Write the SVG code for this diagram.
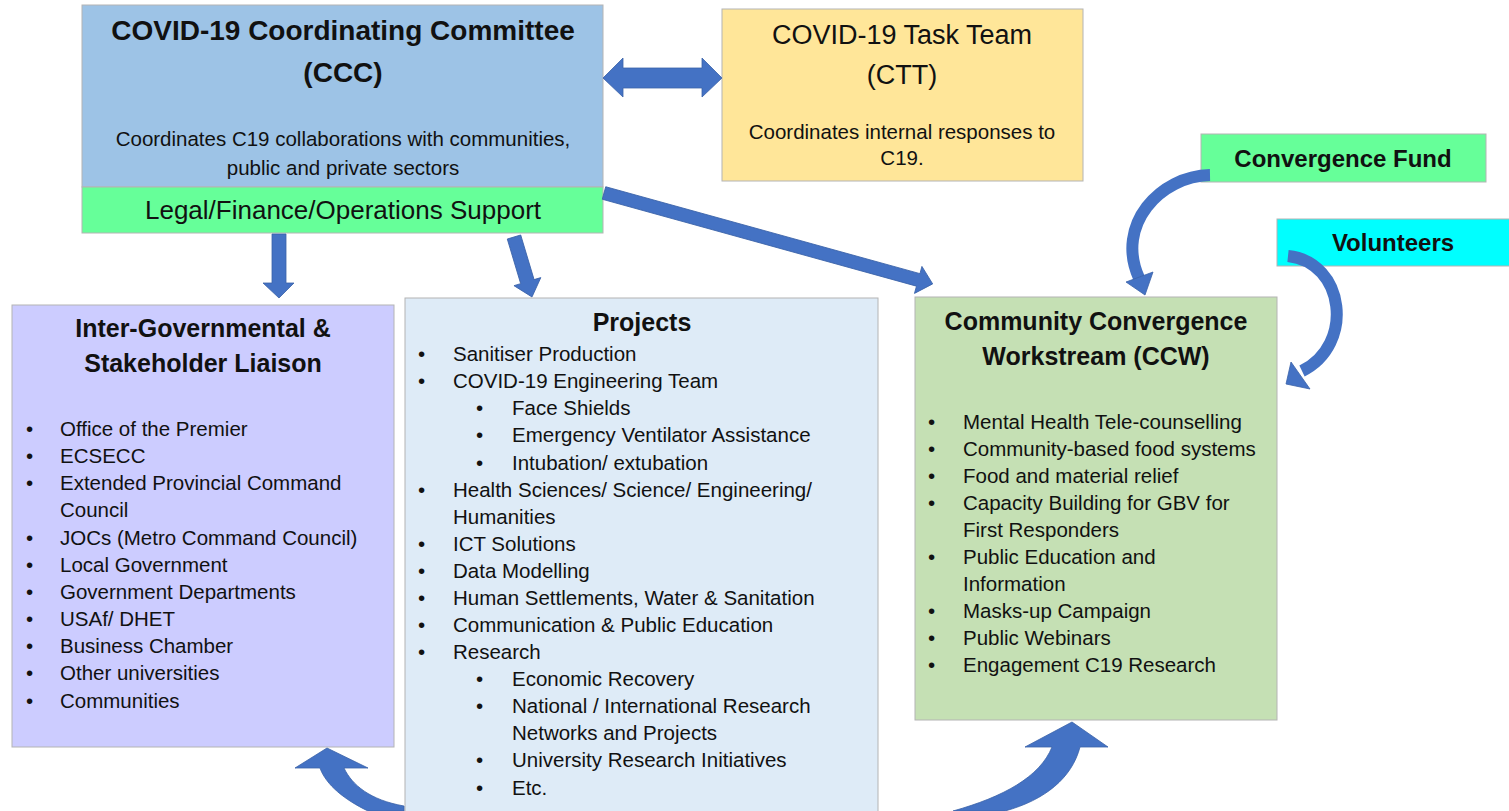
<svg xmlns="http://www.w3.org/2000/svg" width="1509" height="811" viewBox="0 0 1509 811">
<style>
.box{stroke:#B4B4B4;stroke-width:1}
.t{font-family:"Liberation Sans",Arial,sans-serif;fill:#111}
.h{font-weight:bold;font-size:25px;text-anchor:middle}
.b{font-size:20.5px}
.c{text-anchor:middle}
.arr{fill:#4472C4;stroke:#3A62A8;stroke-width:0.8}
.arrs{fill:none;stroke:#4472C4;stroke-linecap:butt}
</style>
<rect width="1509" height="811" fill="#FFFFFF"/>

<g id="ccc">
  <rect class="box" x="82" y="5" width="521" height="182" fill="#9DC3E6"/>
  <rect class="box" x="82" y="187" width="521" height="46" fill="#66FF99"/>
  <text class="t" x="343" y="40" font-size="28" font-weight="bold" text-anchor="middle">COVID-19 Coordinating Committee</text>
  <text class="t" x="343" y="82" font-size="28" font-weight="bold" text-anchor="middle">(CCC)</text>
  <text class="t b c" x="343" y="146">Coordinates C19 collaborations with communities,</text>
  <text class="t b c" x="343" y="175">public and private sectors</text>
  <text class="t c" x="343" y="219" font-size="26">Legal/Finance/Operations Support</text>
</g>

<g id="ctt">
  <rect class="box" x="722" y="9" width="361" height="172" fill="#FFE699"/>
  <text class="t c" x="902" y="44" font-size="27">COVID-19 Task Team</text>
  <text class="t c" x="902" y="84" font-size="27">(CTT)</text>
  <text class="t b c" x="902" y="139">Coordinates internal responses to</text>
  <text class="t b c" x="902" y="165">C19.</text>
</g>

<g id="fund">
  <rect class="box" x="1201" y="134" width="285" height="48" fill="#66FF99"/>
  <text class="t" x="1343" y="167" font-size="24" font-weight="bold" text-anchor="middle">Convergence Fund</text>
</g>

<g id="volunteers">
  <rect class="box" x="1277" y="219" width="240" height="47" fill="#00FFFF"/>
  <text class="t" x="1393" y="251" font-size="24" font-weight="bold" text-anchor="middle">Volunteers</text>
</g>

<g id="intergov">
  <rect class="box" x="12" y="305" width="382" height="442" fill="#CCCCFF"/>
  <text class="t h" x="203" y="337">Inter-Governmental &amp;</text>
  <text class="t h" x="203" y="372">Stakeholder Liaison</text>
  <g class="t b">
    <text x="26" y="436">•</text><text x="60" y="436">Office of the Premier</text>
    <text x="26" y="463">•</text><text x="60" y="463">ECSECC</text>
    <text x="26" y="490">•</text><text x="60" y="490">Extended Provincial Command</text>
    <text x="60" y="517">Council</text>
    <text x="26" y="545">•</text><text x="60" y="545">JOCs (Metro Command Council)</text>
    <text x="26" y="572">•</text><text x="60" y="572">Local Government</text>
    <text x="26" y="599">•</text><text x="60" y="599">Government Departments</text>
    <text x="26" y="626">•</text><text x="60" y="626">USAf/ DHET</text>
    <text x="26" y="653">•</text><text x="60" y="653">Business Chamber</text>
    <text x="26" y="680">•</text><text x="60" y="680">Other universities</text>
    <text x="26" y="708">•</text><text x="60" y="708">Communities</text>
  </g>
</g>

<g id="projects">
  <rect class="box" x="405" y="298" width="473" height="520" fill="#DEEBF7"/>
  <text class="t h" x="642" y="331">Projects</text>
  <g class="t b">
    <text x="418" y="361">•</text><text x="453" y="361">Sanitiser Production</text>
    <text x="418" y="388">•</text><text x="453" y="388">COVID-19 Engineering Team</text>
    <text x="476" y="415">•</text><text x="512" y="415">Face Shields</text>
    <text x="476" y="442">•</text><text x="512" y="442">Emergency Ventilator Assistance</text>
    <text x="476" y="470">•</text><text x="512" y="470">Intubation/ extubation</text>
    <text x="418" y="497">•</text><text x="453" y="497">Health Sciences/ Science/ Engineering/</text>
    <text x="453" y="524">Humanities</text>
    <text x="418" y="551">•</text><text x="453" y="551">ICT Solutions</text>
    <text x="418" y="578">•</text><text x="453" y="578">Data Modelling</text>
    <text x="418" y="605">•</text><text x="453" y="605">Human Settlements, Water &amp; Sanitation</text>
    <text x="418" y="632">•</text><text x="453" y="632">Communication &amp; Public Education</text>
    <text x="418" y="659">•</text><text x="453" y="659">Research</text>
    <text x="476" y="686">•</text><text x="512" y="686">Economic Recovery</text>
    <text x="476" y="713">•</text><text x="512" y="713">National / International Research</text>
    <text x="512" y="740">Networks and Projects</text>
    <text x="476" y="767">•</text><text x="512" y="767">University Research Initiatives</text>
    <text x="476" y="795">•</text><text x="512" y="795">Etc.</text>
  </g>
</g>

<g id="ccw">
  <rect class="box" x="915" y="297" width="362" height="423" fill="#C5E0B4"/>
  <text class="t h" x="1096" y="330">Community Convergence</text>
  <text class="t h" x="1096" y="365">Workstream (CCW)</text>
  <g class="t b">
    <text x="928" y="429">•</text><text x="963" y="429">Mental Health Tele-counselling</text>
    <text x="928" y="456">•</text><text x="963" y="456">Community-based food systems</text>
    <text x="928" y="483">•</text><text x="963" y="483">Food and material relief</text>
    <text x="928" y="510">•</text><text x="963" y="510">Capacity Building for GBV for</text>
    <text x="963" y="537">First Responders</text>
    <text x="928" y="564">•</text><text x="963" y="564">Public Education and</text>
    <text x="963" y="591">Information</text>
    <text x="928" y="618">•</text><text x="963" y="618">Masks-up Campaign</text>
    <text x="928" y="645">•</text><text x="963" y="645">Public Webinars</text>
    <text x="928" y="672">•</text><text x="963" y="672">Engagement C19 Research</text>
  </g>
</g>

<g id="connectors">
  <polygon class="arr" points="603,78 623,58 623,68 702,68 702,58 722,78 702,97 702,88 623,88 623,97"/>
  <polygon class="arr" points="272,234 286,234 286,283 294,283 279,298 263,283 272,283"/>
  <polygon class="arr" transform="translate(514,237) rotate(73.3)" points="0,-7 46.6,-7 46.6,-14 62.6,0 46.6,14 46.6,7 0,7"/>
  <polygon class="arr" transform="translate(604,193) rotate(15.46)" points="0,-6.5 326,-6.5 326,-14 341,0 326,14 326,6.5 0,6.5"/>
  <path class="arrs" d="M1210,175 C1160,176 1115,225 1139,278" stroke-width="12"/>
  <polygon class="arr" points="1126,282 1153,272 1145,295"/>
  <path class="arrs" d="M1288,256 C1345,262 1355,345 1302,371" stroke-width="12"/>
  <polygon class="arr" points="1291,362 1310,389 1286,384"/>
  <path class="arr" d="M295,768 L327,748 L368,768 L344,768 C352,785 370,800 404,806 L404,811 L368,811 C345,800 326,785 320,768 Z"/>
  <path class="arr" d="M1025,747 L1072,722 L1108,747 L1080,747 C1072,778 1045,800 1005,811 L953,811 C1003,797 1040,777 1052,747 Z"/>
</g>
</svg>
